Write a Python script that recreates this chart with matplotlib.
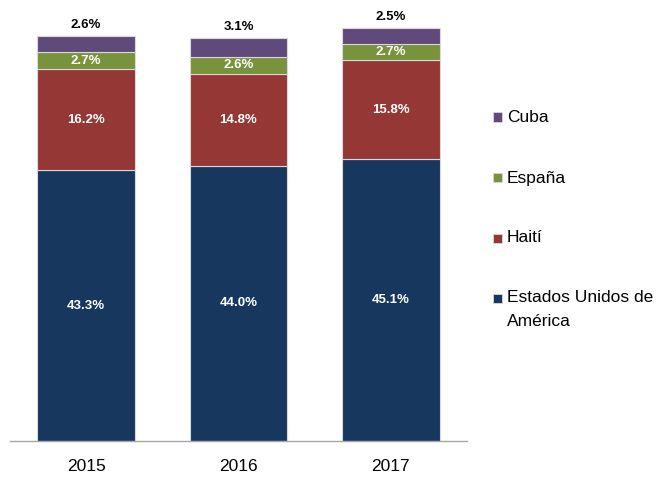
import matplotlib
matplotlib.use("Agg")
import matplotlib.pyplot as plt
from matplotlib.patches import Rectangle
import numpy as np

years = ["2015", "2016", "2017"]
usa = [43.3, 44.0, 45.1]
haiti = [16.2, 14.8, 15.8]
espana = [2.7, 2.6, 2.7]
cuba = [2.6, 3.1, 2.5]

series = [
    ("Estados Unidos de\nAmérica", usa, "#17375E"),
    ("Haití", haiti, "#953735"),
    ("España", espana, "#77933C"),
    ("Cuba", cuba, "#604A7B"),
]

plt.rcParams['font.family'] = ['Liberation Sans', 'DejaVu Sans']

W, H = 656, 478
fig = plt.figure(figsize=(W / 100, H / 100), dpi=100)
ax = fig.add_axes([10 / W, 37 / H, 457 / W, (441 - 7) / H])

x = np.arange(len(years))
bottom = np.zeros(len(years))
for i, (name, vals, col) in enumerate(series):
    vals = np.array(vals)
    ax.bar(x, vals, 0.64, bottom=bottom, color=col, edgecolor="#D9D9D9",
           linewidth=0.8, label=name)
    for xi, v, bo in zip(x, vals, bottom):
        if i == 3:
            ax.text(xi, bo + v + 1.8, f"{v:.1f}%", ha="center", va="center",
                    fontsize=9.5, fontweight="bold", color="black")
        else:
            ax.text(xi, bo + v / 2, f"{v:.1f}%", ha="center", va="center",
                    fontsize=9.5, fontweight="bold", color="white")
    bottom += vals

ax.set_xlim(-0.5, 2.5)
ax.set_ylim(0, 434 / 6.25)
ax.set_yticks([])
ax.set_xticks(x)
ax.set_xticklabels(years, fontsize=12.5)
ax.tick_params(axis="x", length=0, pad=13)
for s in ["top", "right", "left"]:
    ax.spines[s].set_visible(False)
ax.spines["bottom"].set_color("#A6A6A6")
ax.spines["bottom"].set_linewidth(1)

# legend (drawn manually to match layout)
ys = [298, 238, 178, 117]
for (name, vals, col), yc in zip(series, ys):
    fig.patches.append(Rectangle((493 / W, 1 - (yc + 4.5) / H), 9 / W, 9 / H,
                                 transform=fig.transFigure, facecolor=col,
                                 edgecolor="#D9D9D9", linewidth=0.6))
    lines = name.split("\n")
    for k, ln in enumerate(lines):
        fig.text(507 / W, 1 - (yc + 23 * k) / H, ln, ha="left", va="center",
                 fontsize=12.5, color="black")

fig.savefig("out.png", dpi=100)
